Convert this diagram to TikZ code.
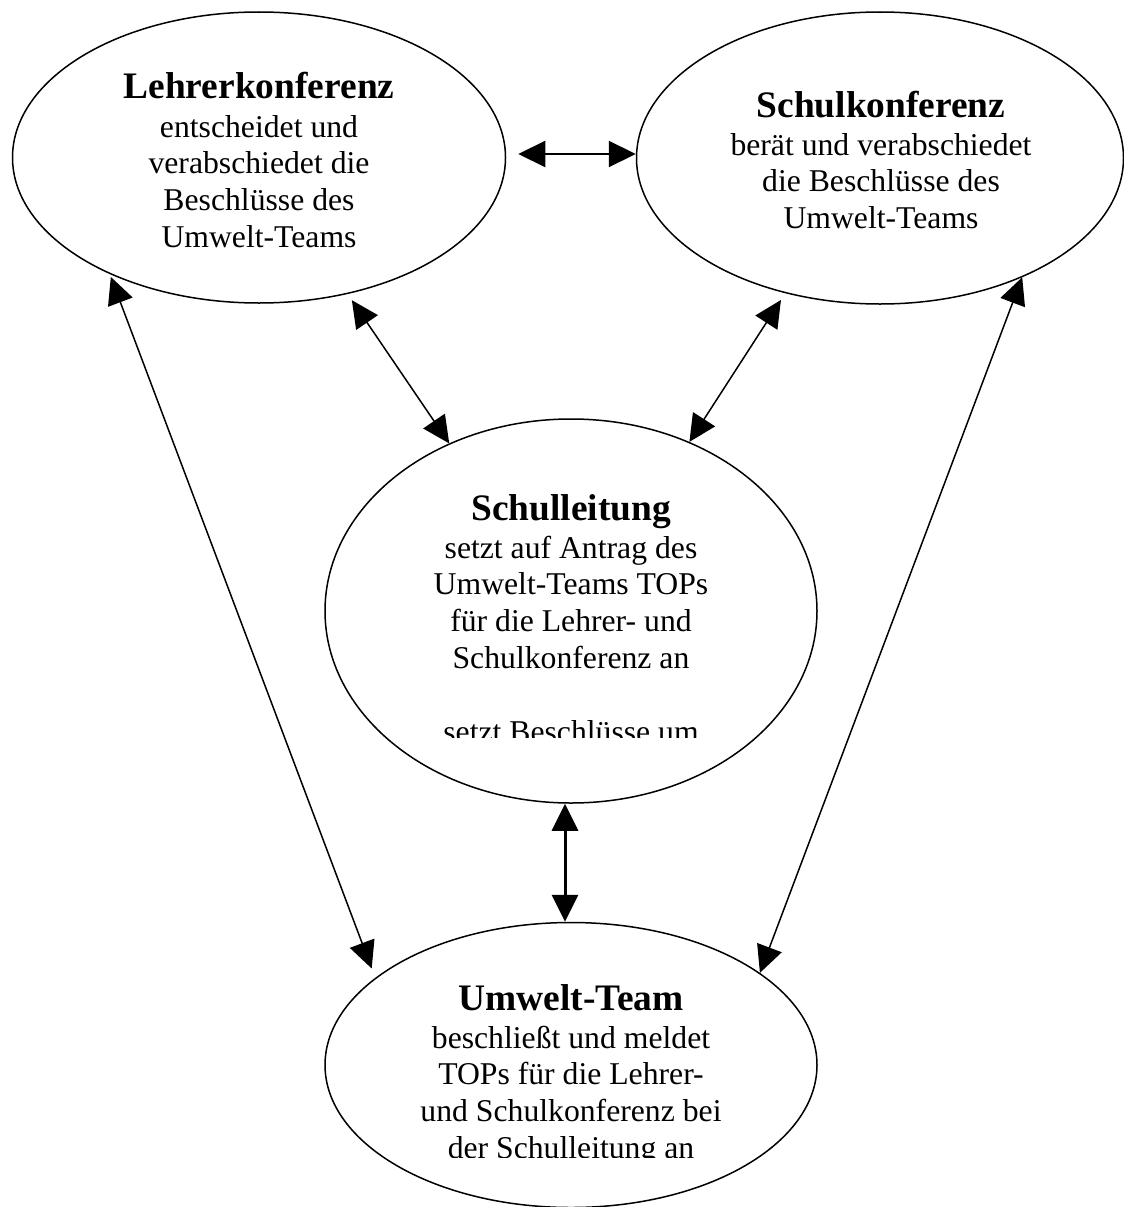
\documentclass[tikz,border=0pt]{standalone}
\usepackage{fontspec}
\setmainfont{Liberation Serif}
\usetikzlibrary{arrows.meta,shapes.geometric}
\tikzset{
  ell/.style={draw, ellipse, line width=1.5pt, inner sep=0pt},
  ttl/.style={anchor=base, inner sep=0pt, font=\fontsize{37.4pt}{44pt}\selectfont\bfseries},
  bdy/.style={anchor=base, inner sep=0pt, font=\fontsize{31.7pt}{36.8pt}\selectfont},
  conn/.style={{Triangle[length=27pt,width=26pt]}-{Triangle[length=27pt,width=26pt]}, line width=1.5pt},
}
\newcommand{\bodylines}[1]{\begin{tabular}[t]{@{}c@{}}#1\end{tabular}}
\begin{document}
\begin{tikzpicture}[x=1pt, y=-1pt]
\useasboundingbox (0,0) rectangle (1124,1207);
\fill[white] (0,0) rectangle (1124,1207);

% ellipses
\node[ell, minimum width=493pt, minimum height=291pt] (lk) at (259,157.5) {};
\node[ell, minimum width=487pt, minimum height=292pt] (sk) at (880,158) {};
\node[ell, minimum width=492pt, minimum height=384pt] (sl) at (571,611) {};
\node[ell, minimum width=492pt, minimum height=285pt] (ut) at (571,1065) {};

% texts
\node[ttl] (lkT) at (259,99) {Lehrerkonferenz};
\node[bdy] (lkB) at (259,137) {\bodylines{entscheidet und\\verabschiedet die\\Beschlüsse des\\Umwelt-Teams}};

\node[ttl] (skT) at (881,117) {Schulkonferenz};
\node[bdy] (skB) at (881,155) {\bodylines{berät und verabschiedet\\die Beschlüsse des\\Umwelt-Teams}};

\node[ttl] (slT) at (571,520) {Schulleitung};
\begin{scope}
\clip (330,530) rectangle (812,737);
\node[bdy] (slB) at (571,558) {\bodylines{setzt auf Antrag des\\Umwelt-Teams TOPs\\für die Lehrer- und\\Schulkonferenz an\\ \\setzt Beschlüsse um}};
\end{scope}

\node[ttl] (utT) at (571,1010) {Umwelt-Team};
\begin{scope}
\clip (330,1015) rectangle (812,1157);
\node[bdy] (utB) at (571,1048) {\bodylines{beschließt und meldet\\TOPs für die Lehrer-\\und Schulkonferenz bei\\der Schulleitung an}};
\end{scope}

% connectors
\draw[conn, line width=2.2pt] ([xshift=12pt,yshift=3.5pt]lk.east) -- ([yshift=4pt]sk.west);
\draw[conn, shorten <=7.5pt] (lk.-57.4) -- (sl.126.9);
\draw[conn, shorten <=8pt] (sk.-125.7) -- (sl.55.8);
\draw[conn, shorten <=3pt, shorten >=10pt] (lk.-142.8) -- (ut.156.3);
\draw[conn] (sk.-40) -- (ut.26.6);
\draw[conn, line width=3pt] ([xshift=-6pt]sl.south) -- ([xshift=-6pt]ut.north);
\end{tikzpicture}
\end{document}
